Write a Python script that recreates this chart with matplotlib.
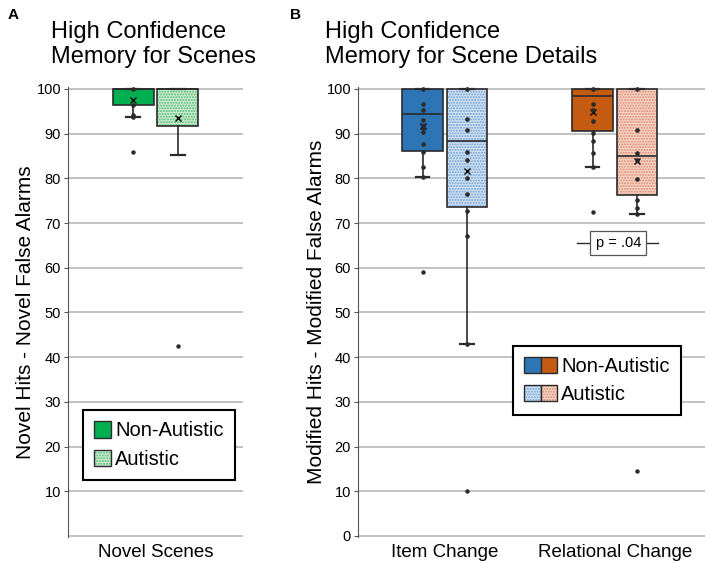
import matplotlib
matplotlib.use('Agg')
import matplotlib.pyplot as plt
import matplotlib.colors as mcolors
from matplotlib.patches import Patch
from matplotlib.legend_handler import HandlerTuple

plt.rcParams['font.family'] = ['Liberation Sans', 'DejaVu Sans']
plt.rcParams['hatch.linewidth'] = 1.0

group_names = ['Non-Autistic', 'Autistic']

# panel A - novel scenes (non-autistic, autistic)
novel_labels = ['Novel Scenes']
novel_q1 = [96.4, 91.8]
novel_med = [100, 100]
novel_q3 = [100, 100]
novel_lo = [93.8, 85.3]
novel_hi = [100, 100]
novel_mean = [97.6, 93.6]
novel_fliers = [[85.8], [42.6]]
novel_points = [[100, 96.4, 94.2, 93.8], []]

# panel B - scene details
# order: item non-aut, item aut, relational non-aut, relational aut
detail_labels = ['Item Change', 'Relational Change']
detail_q1 = [86.1, 73.7, 90.6, 76.2]
detail_med = [94.3, 88.4, 98.4, 85.1]
detail_q3 = [100, 100, 100, 100]
detail_lo = [80.4, 43.0, 82.5, 72.1]
detail_hi = [100, 100, 100, 100]
detail_mean = [91.7, 81.6, 94.9, 84.0]
detail_fliers = [[59.1], [10.1], [72.4], [14.6]]
detail_points = [
    [100, 96.6, 95.4, 93.0, 91.8, 91.3, 90.4, 87.6, 85.9, 82.5, 80.4],
    [100, 93.3, 90.9, 85.8, 84.2, 80.1, 76.6, 72.8, 67.1, 43.0],
    [100, 96.6, 95.4, 92.8, 90.2, 88.4, 85.7, 82.5],
    [100, 90.9, 85.7, 84.2, 79.9, 75.2, 73.3, 72.1],
]
p_text = 'p = .04'
p_level = 65.5

green, green_lt, green_dot = '#00b050', '#cdeed3', '#55b870'
blue, blue_lt, blue_dot = '#2e75b6', '#d3e3f4', '#6f9fd0'
orange, orange_lt, orange_dot = '#c55a11', '#f8d5c8', '#d98b70'
dark = '#2b2b2b'


def set_hatch(patch, color):
    if hasattr(patch, 'set_hatchcolor'):
        patch.set_hatchcolor(color)
    else:
        patch._hatch_color = mcolors.to_rgba(color)


def styled_patch(face, hatch_col=None):
    p = Patch(facecolor=face, edgecolor=dark, linewidth=1.0,
              hatch='......' if hatch_col else None)
    if hatch_col:
        set_hatch(p, hatch_col)
    return p


def draw_boxes(ax, pos, q1, med, q3, lo, hi, mean, fliers, points, faces, dots):
    stats = []
    for i in range(len(pos)):
        stats.append(dict(q1=q1[i], med=med[i], q3=q3[i], whislo=lo[i],
                          whishi=hi[i], mean=mean[i], fliers=fliers[i]))
    bp = ax.bxp(stats, positions=pos, widths=0.234, patch_artist=True,
                showmeans=True, capwidths=0.08,
                boxprops=dict(edgecolor=dark, linewidth=1.2),
                medianprops=dict(color=dark, linewidth=1.2),
                whiskerprops=dict(color=dark, linewidth=1.2),
                capprops=dict(color=dark, linewidth=1.6),
                meanprops=dict(marker='x', markersize=4, markeredgecolor='black',
                               markeredgewidth=1.0),
                flierprops=dict(marker='o', markersize=2.2, markerfacecolor=dark,
                                markeredgecolor=dark))
    for box, face, dot in zip(bp['boxes'], faces, dots):
        box.set_facecolor(face)
        if dot:
            box.set_hatch('......')
            set_hatch(box, dot)
    for x, pts in zip(pos, points):
        ax.plot([x] * len(pts), pts, 'o', ms=2.3, color=dark, zorder=4)


def style_axis(ax, xpos, xlabels, show_zero):
    ax.set_ylim(-0.3, 100.4)
    ticks = list(range(0, 101, 10)) if show_zero else list(range(10, 101, 10))
    ax.set_yticks(ticks)
    ax.set_yticklabels([str(v) for v in ticks], fontsize=10.5)
    ax.yaxis.grid(True, color='#bdbdbd', linewidth=1.3)
    if not show_zero:
        ax.axhline(0, color='#bdbdbd', linewidth=1.3, zorder=0)
    ax.set_axisbelow(True)
    for s in ['top', 'right', 'bottom']:
        ax.spines[s].set_visible(False)
    ax.spines['left'].set_color('#555555')
    ax.tick_params(axis='y', length=3, color='#555555', pad=2)
    ax.set_xticks(xpos)
    ax.set_xticklabels(xlabels, fontsize=13.5)
    ax.tick_params(axis='x', length=0, pad=5)


fig = plt.figure(figsize=(7.09, 5.63), dpi=100)
axA = fig.add_axes([0.0959, 0.0456, 0.2468, 0.7995])
axB = fig.add_axes([0.5049, 0.0456, 0.4894, 0.7995])

# panel A
axA.set_xlim(0, 1)
draw_boxes(axA, [0.372, 0.628], novel_q1, novel_med, novel_q3, novel_lo, novel_hi,
           novel_mean, novel_fliers, novel_points,
           [green, green_lt], [None, green_dot])
style_axis(axA, [0.5], novel_labels, False)

legA = axA.legend([styled_patch(green), styled_patch(green_lt, green_dot)], group_names,
                  loc='upper left', bbox_to_anchor=(0.086, 0.282), borderaxespad=0,
                  fontsize=14.5, handlelength=0.85, handleheight=0.85, handletextpad=0.2,
                  labelspacing=0.45, borderpad=0.55, fancybox=False, framealpha=1)
legA.get_frame().set_edgecolor('black')
legA.get_frame().set_linewidth(1.5)

# panel B
axB.set_xlim(0, 2)
draw_boxes(axB, [0.372, 0.628, 1.352, 1.608], detail_q1, detail_med, detail_q3,
           detail_lo, detail_hi, detail_mean, detail_fliers, detail_points,
           [blue, blue_lt, orange, orange_lt], [None, blue_dot, None, orange_dot])
style_axis(axB, [0.5, 1.48], detail_labels, True)

axB.plot([1.262, 1.729], [p_level, p_level], color=dark, lw=1.0, zorder=3)
axB.text(1.5, p_level, p_text, ha='center', va='center', fontsize=10.5, zorder=5,
         bbox=dict(boxstyle='square,pad=0.35', facecolor='white', edgecolor='#555555', lw=0.9))

legB = axB.legend([(styled_patch(blue), styled_patch(orange)),
                   (styled_patch(blue_lt, blue_dot), styled_patch(orange_lt, orange_dot))],
                  group_names, handler_map={tuple: HandlerTuple(ndivide=None, pad=0)},
                  loc='upper left', bbox_to_anchor=(0.447, 0.425), borderaxespad=0,
                  fontsize=14.5, handlelength=1.65, handleheight=0.85, handletextpad=0.2,
                  labelspacing=0.45, borderpad=0.55, fancybox=False, framealpha=1)
legB.get_frame().set_edgecolor('black')
legB.get_frame().set_linewidth(1.5)

# titles, panel letters, y labels
fig.text(8 / 709, 1 - 8 / 563, 'A', fontsize=11, fontweight='bold', va='top')
fig.text(290 / 709, 1 - 8 / 563, 'B', fontsize=11, fontweight='bold', va='top')
fig.text(51 / 709, 1 - 21 / 563, 'High Confidence\nMemory for Scenes', fontsize=17,
         va='top', linespacing=1.18)
fig.text(325 / 709, 1 - 21 / 563, 'High Confidence\nMemory for Scene Details', fontsize=17,
         va='top', linespacing=1.18)
fig.text(26 / 709, 0.4456, 'Novel Hits - Novel False Alarms', rotation=90,
         ha='center', va='center', fontsize=15)
fig.text(317 / 709, 0.4456, 'Modified Hits - Modified False Alarms', rotation=90,
         ha='center', va='center', fontsize=15)

fig.savefig('out.png', dpi=100)
